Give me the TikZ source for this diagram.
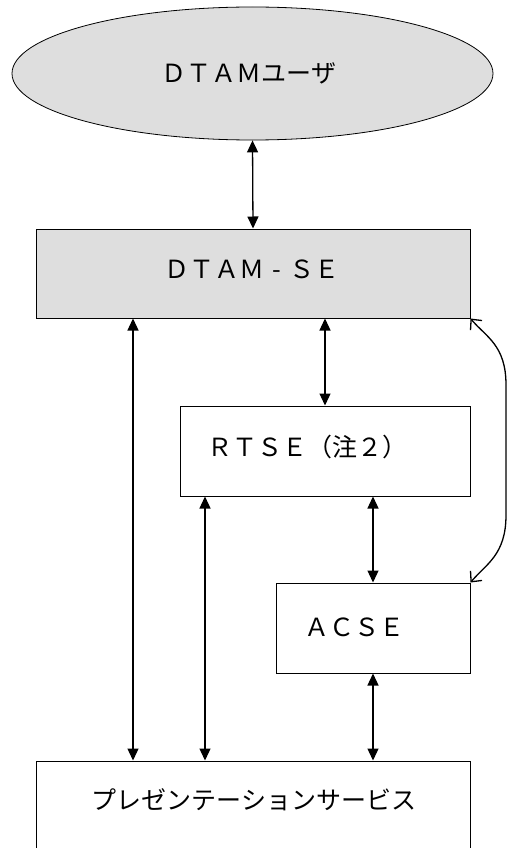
\documentclass[tikz,border=0pt]{standalone}
\usepackage{fontspec}
\setmainfont{Noto Sans CJK JP}
\usetikzlibrary{arrows.meta,shapes.geometric}
\definecolor{boxgray}{RGB}{222,222,222}
\newcommand{\fwhy}{\makebox[1em]{-}}
\tikzset{
  lbl/.style={inner sep=0pt, font=\fontsize{25}{28}\selectfont},
  boxnode/.style={draw=black, line width=1pt, rectangle, inner sep=0pt},
  dbl/.style={line width=1.3pt, {Triangle[length=12pt,width=11pt]}-{Triangle[length=12pt,width=11pt]}},
  barb/.style={line width=1.3pt, {Straight Barb[length=8pt,width=15pt]}-{Straight Barb[length=8pt,width=15pt]}}
}
\begin{document}
\begin{tikzpicture}[x=1pt,y=-1pt]
\useasboundingbox (0,0) rectangle (508,848);
\clip (0,0) rectangle (508,848);
\fill[white] (0,0) rectangle (508,848);
% shapes
\node[ellipse, draw=black, line width=0.8pt, fill=boxgray, minimum width=481pt, minimum height=133pt, inner sep=0pt] (user) at (252.5,73.5) {};
\node[boxnode, fill=boxgray, minimum width=434pt, minimum height=89pt] (dtam) at (253,273.5) {};
\node[boxnode, fill=white, minimum width=290pt, minimum height=90pt] (rtse) at (325,451) {};
\node[boxnode, fill=white, minimum width=194pt, minimum height=90pt] (acse) at (373,628) {};
\node[boxnode, fill=white, minimum width=434pt, minimum height=110pt] (pres) at (253,816) {};
% labels
\node[lbl] (tuser) at (249,73) {ＤＴＡＭユーザ};
\node[lbl] (tdtam) at (252,269) {ＤＴＡＭ\fwhy ＳＥ};
\node[lbl] (trtse) at (307,447) {ＲＴＳＥ（注２）};
\node[lbl] (tacse) at (354,627) {ＡＣＳＥ};
\node[lbl] (tpres) at (254,800) {プレゼンテーションサービス};
% column coordinates
\coordinate (xa) at (133,0);
\coordinate (xb) at (325,0);
\coordinate (xc) at (205,0);
\coordinate (xd) at (373,0);
% connectors
\draw[dbl] (user.south) -- (dtam.north);
\draw[dbl] (dtam.south -| xa) -- (pres.north -| xa);
\draw[dbl] (dtam.south -| xb) -- (rtse.north -| xb);
\draw[dbl] (rtse.south -| xc) -- (pres.north -| xc);
\draw[dbl] (rtse.south -| xd) -- (acse.north -| xd);
\draw[dbl] (acse.south -| xd) -- (pres.north -| xd);
\draw[barb] (dtam.south east) .. controls (486,337) and (506,345) .. (506,385)
  -- (506,515) .. controls (506,555) and (486,564) .. (acse.north east);
\end{tikzpicture}
\end{document}
